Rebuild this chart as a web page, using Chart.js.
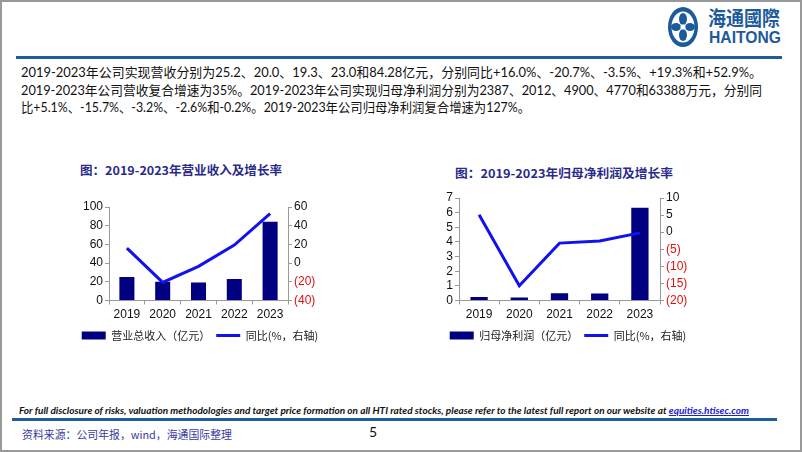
<!DOCTYPE html>
<html>
<head>
<meta charset="utf-8">
<script src="https://cdn.jsdelivr.net/npm/chart.js@4.4.1/dist/chart.umd.min.js"></script>
<style>
body{margin:0;width:802px;height:452px;position:relative;background:#fff;overflow:hidden;font-family:"Noto Sans CJK SC",sans-serif}
.abs{position:absolute;white-space:nowrap;transform-origin:left center}
.frame{position:absolute;left:0;top:0;width:798px;height:448px;border:2px solid #999}
.bar{position:absolute;background:#1f5c9e}
.para{font-family:Lato,"Noto Sans CJK SC",sans-serif;font-size:13px;line-height:18px;color:#111}
.title{font-family:"Noto Sans CJK SC",sans-serif;font-weight:bold;font-size:12px;line-height:16px;color:#2a2a8a}
.disc{font-family:Lato,sans-serif;font-style:italic;font-weight:bold;font-size:10px;line-height:14px;color:#111}
.disc a{color:#2020d0;text-decoration:underline}
.src{font-family:"Noto Sans CJK SC",sans-serif;font-size:11px;line-height:14px;color:#3a3aa0}
canvas{position:absolute}
</style>
</head>
<body>
<div class="frame"></div>

<!-- logo -->
<svg class="abs" style="left:664px;top:5px" width="40" height="46" viewBox="0 0 40 46">
  <ellipse cx="19" cy="22" rx="15" ry="20" fill="#1d5a9c"/>
  <ellipse cx="19" cy="22" rx="11.5" ry="15.5" fill="#fff"/>
  <ellipse cx="19" cy="14" rx="4" ry="6" fill="#1d5a9c"/>
  <ellipse cx="19" cy="30" rx="4" ry="6" fill="#1d5a9c"/>
  <ellipse cx="12" cy="22" rx="5" ry="4" fill="#1d5a9c"/>
  <ellipse cx="26" cy="22" rx="5" ry="4" fill="#1d5a9c"/>
  <circle cx="19" cy="22" r="2.5" fill="#fff"/>
</svg>
<div class="abs" data-w="72" style="left:708px;top:6px;font-size:20px;line-height:24px;color:#1d5a9c;font-weight:bold">海通國際</div>
<div class="abs" data-w="72" style="left:709px;top:29px;font-family:'Liberation Sans';font-weight:bold;font-size:17px;line-height:18px;color:#1d5a9c">HAITONG</div>

<div class="bar" style="left:16px;top:56px;width:766px;height:3px"></div>

<div class="abs para" data-w="741" style="left:21px;top:63px">2019-2023年公司实现营收分别为25.2、20.0、19.3、23.0和84.28亿元，分别同比+16.0%、-20.7%、-3.5%、+19.3%和+52.9%。</div>
<div class="abs para" data-w="741" style="left:21px;top:80.5px">2019-2023年公司营收复合增速为35%。2019-2023年公司实现归母净利润分别为2387、2012、4900、4770和63388万元，分别同</div>
<div class="abs para" data-w="509" style="left:21px;top:98px">比+5.1%、-15.7%、-3.2%、-2.6%和-0.2%。2019-2023年公司归母净利润复合增速为127%。</div>

<div class="abs title" data-w="202" style="left:80px;top:162px">图：2019-2023年营业收入及增长率</div>
<div class="abs title" data-w="218" style="left:455px;top:165px">图：2019-2023年归母净利润及增长率</div>

<canvas id="chartRev" width="280" height="158" style="left:60px;top:193px;width:280px;height:158px"></canvas>
<canvas id="chartProfit" width="300" height="166" style="left:418px;top:185px;width:300px;height:166px"></canvas>

<div class="abs disc" data-w="730" style="left:19px;top:403px">For full disclosure of risks, valuation methodologies and target price formation on all HTI rated stocks, please refer to the latest full report on our website at <a>equities.htisec.com</a></div>
<div class="bar" style="left:12px;top:418px;width:765px;height:3px"></div>
<div class="abs src" data-w="210" style="left:22px;top:427px">资料来源：公司年报，wind，海通国际整理</div>
<div class="abs" style="left:369px;top:424px;font-family:Lato;font-size:14px;line-height:16px;color:#111">5</div>

<script>
// datos
const years = ['2019', '2020', '2021', '2022', '2023'];
const revenue = [25.2, 20.0, 19.3, 23.0, 84.28];          // 亿元
const revenueYoy = [16.0, -20.7, -3.5, 19.3, 52.9];       // %
const netProfit = [0.2387, 0.2012, 0.49, 0.477, 6.3388];  // 亿元
const profitYoy = [5.1, -15.7, -3.2, -2.6, -0.2];         // %

const BAR_COLOR = '#000080';
const LINE_COLOR = '#1212ee';
const AXIS_COLOR = '#9a9a9a';

// negativos entre paréntesis y en rojo
const fmt = v => v < 0 ? '(' + (-v) + ')' : String(v);
const tickColor = c => c.tick && c.tick.value < 0 ? '#e01010' : '#111';

function yAxis(pos, min, max, step, width) {
    return {
        position: pos, min: min, max: max,
        ticks: { stepSize: step, padding: 2, autoSkip: false, callback: fmt, color: tickColor,
                 font: { family: 'Liberation Sans', size: 12 } },
        grid: { drawOnChartArea: false, tickLength: 4, color: AXIS_COLOR },
        border: { color: AXIS_COLOR },
        afterFit: s => { s.width = width; }
    };
}

function makeChart(id, barLabel, bars, yoy, leftAx, rightAx, barPct, padTop) {
    const ctx = document.getElementById(id);
    return new Chart(ctx.getContext('2d'), {
        data: {
            labels: years,
            datasets: [
                { type: 'bar', label: barLabel, data: bars, yAxisID: 'y',
                  backgroundColor: BAR_COLOR, borderWidth: 0, order: 1,
                  categoryPercentage: 1, barPercentage: barPct },
                { type: 'line', label: '同比(%，右轴)', data: yoy, yAxisID: 'y1',
                  borderColor: LINE_COLOR, backgroundColor: LINE_COLOR, borderWidth: 3,
                  pointRadius: 0, tension: 0, order: 0 }
            ]
        },
        options: {
            responsive: false, animation: false,
            layout: { padding: { top: padTop, left: 0, right: 0, bottom: 0 } },
            plugins: {
                tooltip: { enabled: false },
                legend: {
                    position: 'bottom',
                    labels: {
                        usePointStyle: true, pointStyleWidth: 24, boxHeight: 8, padding: 6,
                        color: '#222', font: { family: 'Noto Sans CJK SC', size: 11 },
                        generateLabels: chart => {
                            const items = Chart.defaults.plugins.legend.labels.generateLabels(chart);
                            items.forEach(it => {
                                const ds = chart.data.datasets[it.datasetIndex];
                                it.pointStyle = ds.type === 'line' ? 'line' : 'rect';
                                it.lineWidth = ds.type === 'line' ? 3 : 0;
                                it.strokeStyle = ds.borderColor || ds.backgroundColor;
                                it.fillStyle = ds.backgroundColor;
                            });
                            return items.sort((a, b) => a.datasetIndex - b.datasetIndex);
                        }
                    }
                }
            },
            scales: {
                x: {
                    ticks: { color: '#111', padding: 3, font: { family: 'Liberation Sans', size: 12 } },
                    grid: { offset: true, drawOnChartArea: false, tickLength: 4, color: AXIS_COLOR },
                    border: { color: AXIS_COLOR },
                    afterFit: s => { s.height = 23.5; }
                },
                y: leftAx,
                y1: rightAx
            }
        }
    });
}

let charts = {};
function dibujar() {
    charts.rev = makeChart('chartRev', '营业总收入（亿元）', revenue, revenueYoy,
        yAxis('left', 0, 100, 20, 49), yAxis('right', -40, 60, 20, 52), 0.42, 14);
    charts.profit = makeChart('chartProfit', '归母净利润（亿元）', netProfit, profitYoy,
        yAxis('left', 0, 7, 1, 41), yAxis('right', -20, 10, 5, 58), 0.43, 13);
}

// ajustar anchos de los textos al original
function ajustarTextos() {
    document.querySelectorAll('[data-w]').forEach(el => {
        const w = el.getBoundingClientRect().width;
        if (w > 0) el.style.transform = 'scaleX(' + (parseFloat(el.dataset.w) / w) + ')';
    });
}

ajustarTextos();
dibujar();
</script>
</body>
</html>
